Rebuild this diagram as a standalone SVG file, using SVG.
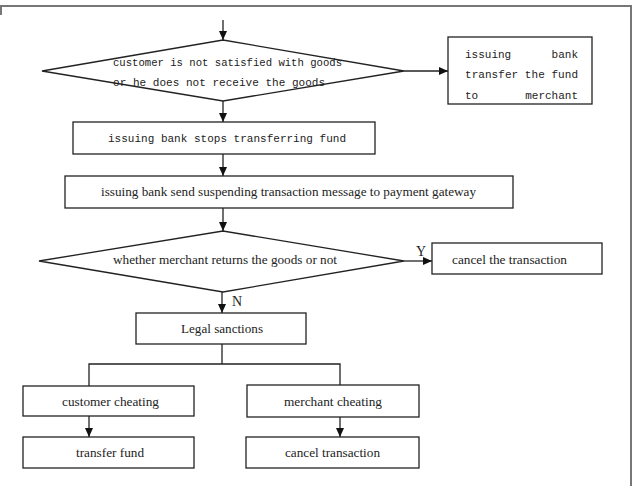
<svg xmlns="http://www.w3.org/2000/svg" width="633" height="486" viewBox="0 0 633 486">
<style>
.shape{fill:#fff;stroke:#222;stroke-width:1.3}
.line{fill:none;stroke:#222;stroke-width:1.3}
.mono{font-family:"Liberation Mono","DejaVu Sans Mono",monospace;font-size:11px;fill:#222}
.ser{font-family:"Liberation Serif","Times New Roman",serif;font-size:13px;fill:#222}
.frame{fill:none;stroke:#777;stroke-width:2}
</style>
<defs>
<marker id="ah" markerUnits="userSpaceOnUse" markerWidth="10" markerHeight="10" refX="9" refY="4" orient="auto">
<path d="M0,0 L9,4 L0,8 Z" fill="#111"/>
</marker>
</defs>
<rect width="633" height="486" fill="#fff"/>
<g id="frame">
<line class="frame" x1="0" y1="6" x2="632" y2="6"/>
<line class="frame" x1="1" y1="6" x2="1" y2="15"/>
<line class="frame" x1="631" y1="6" x2="631" y2="486"/>
</g>
<g id="connectors">
<line class="line" x1="223" y1="20" x2="223" y2="40" marker-end="url(#ah)"/>
<line class="line" x1="404" y1="71" x2="448" y2="71" marker-end="url(#ah)"/>
<line class="line" x1="223" y1="101" x2="223" y2="122" marker-end="url(#ah)"/>
<line class="line" x1="223" y1="154" x2="223" y2="176" marker-end="url(#ah)"/>
<line class="line" x1="223" y1="208" x2="223" y2="231" marker-end="url(#ah)"/>
<line class="line" x1="404" y1="261" x2="432" y2="261" marker-end="url(#ah)"/>
<line class="line" x1="222" y1="292" x2="222" y2="313" marker-end="url(#ah)"/>
<polyline class="line" points="222,344 222,364"/>
<polyline class="line" points="89,386 89,364 340,364 340,385"/>
<line class="line" x1="89" y1="416" x2="89" y2="437" marker-end="url(#ah)"/>
<line class="line" x1="340" y1="417" x2="340" y2="437" marker-end="url(#ah)"/>
<text class="ser" x="416" y="256" style="font-size:14px">Y</text>
<text class="ser" x="232" y="306" style="font-size:14px">N</text>
</g>
<g id="d1">
<polygon class="shape" points="42,71 223,40 404,71 223,101"/>
<text class="mono" x="113" y="66" textLength="229" lengthAdjust="spacingAndGlyphs">customer is not satisfied with goods</text>
<text class="mono" x="113" y="86" textLength="212" lengthAdjust="spacingAndGlyphs">or he does not receive the goods</text>
</g>
<g id="n_transfer">
<rect class="shape" x="448" y="37" width="144" height="67"/>
<text class="mono" x="465" y="58">issuing</text>
<text class="mono" x="578" y="58" text-anchor="end">bank</text>
<text class="mono" x="465" y="78" textLength="113" lengthAdjust="spacing">transfer the fund</text>
<text class="mono" x="465" y="99">to</text>
<text class="mono" x="578" y="99" text-anchor="end">merchant</text>
</g>
<g id="n_stops">
<rect class="shape" x="73" y="122" width="302" height="32"/>
<text class="mono" x="108" y="142" textLength="238" lengthAdjust="spacingAndGlyphs">issuing bank stops transferring fund</text>
</g>
<g id="n_send">
<rect class="shape" x="65" y="176" width="448" height="32"/>
<text class="ser" x="101" y="196" textLength="375" lengthAdjust="spacingAndGlyphs">issuing bank send suspending transaction message to payment gateway</text>
</g>
<g id="d2">
<polygon class="shape" points="39,261 223,231 404,261 223,292"/>
<text class="ser" x="113" y="264" textLength="224" lengthAdjust="spacingAndGlyphs">whether merchant returns the goods or not</text>
</g>
<g id="n_cancel_the">
<rect class="shape" x="432" y="243" width="170" height="31"/>
<text class="ser" x="452" y="264" textLength="115" lengthAdjust="spacingAndGlyphs">cancel the transaction</text>
</g>
<g id="n_legal">
<rect class="shape" x="136" y="313" width="170" height="31"/>
<text class="ser" x="181" y="333" textLength="82" lengthAdjust="spacingAndGlyphs">Legal sanctions</text>
</g>
<g id="n_cust">
<rect class="shape" x="23" y="386" width="171" height="30"/>
<text class="ser" x="62" y="406" textLength="97" lengthAdjust="spacingAndGlyphs">customer cheating</text>
</g>
<g id="n_merch">
<rect class="shape" x="247" y="385" width="172" height="32"/>
<text class="ser" x="284" y="406" textLength="98" lengthAdjust="spacingAndGlyphs">merchant cheating</text>
</g>
<g id="n_fund">
<rect class="shape" x="23" y="437" width="171" height="31"/>
<text class="ser" x="76" y="457" textLength="68" lengthAdjust="spacingAndGlyphs">transfer fund</text>
</g>
<g id="n_cancel">
<rect class="shape" x="246" y="437" width="173" height="31"/>
<text class="ser" x="285" y="457" textLength="95" lengthAdjust="spacingAndGlyphs">cancel transaction</text>
</g>
</svg>
